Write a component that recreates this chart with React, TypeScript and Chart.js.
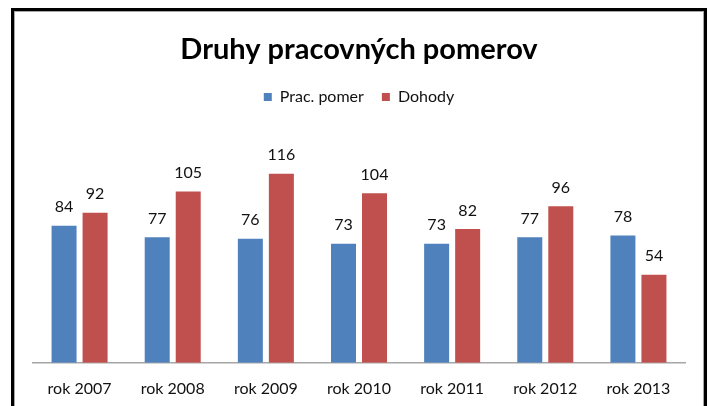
import React, { useEffect, useRef } from "react";
import { Chart, registerables } from "chart.js";

Chart.register(...registerables);

const categories = ["rok 2007", "rok 2008", "rok 2009", "rok 2010", "rok 2011", "rok 2012", "rok 2013"];
const pracPomer = [84, 77, 76, 73, 73, 77, 78];
const dohody = [92, 105, 116, 104, 82, 96, 54];
const seriesNames = ["Prac. pomer", "Dohody"];
const titleText = "Druhy pracovných pomerov";

const FONT = "Lato";
const TEXT = "#111111";

const valueLabels = {
  id: "valueLabels",
  afterDatasetsDraw(chart: any) {
    const ctx = chart.ctx;
    ctx.save();
    ctx.font = `16px ${FONT}`;
    ctx.fillStyle = TEXT;
    ctx.textAlign = "center";
    ctx.textBaseline = "alphabetic";
    chart.data.datasets.forEach((ds: any, di: number) => {
      const meta = chart.getDatasetMeta(di);
      meta.data.forEach((bar: any, i: number) => {
        ctx.fillText(String(ds.data[i]), bar.x, bar.y - 13.5);
      });
    });
    ctx.restore();
  },
};

const legendGap = {
  id: "legendGap",
  beforeInit(chart: any) {
    const legend = chart.legend;
    if (!legend) return;
    const origFit = legend.fit;
    legend.fit = function () {
      origFit.call(this);
      this.height += 19.5;
    };
  },
};

export default function App() {
  const ref = useRef<HTMLCanvasElement>(null);
  useEffect(() => {
    if (!ref.current) return;
    const chart = new Chart(ref.current, {
      type: "bar",
      data: {
        labels: categories,
        datasets: [
          { label: seriesNames[0], data: pracPomer, backgroundColor: "#4F81BD" },
          { label: seriesNames[1], data: dohody, backgroundColor: "#C0504D" },
        ],
      },
      options: {
        animation: false,
        responsive: false,
        maintainAspectRatio: false,
        events: [],
        layout: { padding: { top: 10, left: 33, right: 24, bottom: 0 } },
        datasets: {
          bar: { categoryPercentage: 0.666, barPercentage: 0.806 },
        },
        plugins: {
          title: {
            display: true,
            text: titleText,
            color: "#000",
            font: { family: FONT, size: 29, weight: "bold" },
            padding: { top: 22.6, bottom: 3.6 },
          },
          legend: {
            display: true,
            position: "top",
            labels: {
              boxWidth: 8,
              boxHeight: 8,
              padding: 18,
              color: TEXT,
              font: { family: FONT, size: 16 },
            },
          },
          tooltip: { enabled: false },
        },
        scales: {
          x: {
            grid: { display: false, drawTicks: false },
            border: { display: true, color: "#A6A6A6", width: 1.5 },
            ticks: { color: TEXT, font: { family: FONT, size: 16 }, padding: 16, maxRotation: 0 },
          },
          y: {
            display: false,
            min: 0,
            max: 140,
          },
        },
      },
      plugins: [valueLabels, legendGap],
    });
    return () => chart.destroy();
  }, []);

  return (
    <div style={{ position: "fixed", left: 0, top: 0, width: 709, height: 406, overflow: "hidden", background: "#fff" }}>
      <div
        style={{
          position: "absolute",
          left: 11,
          top: 8,
          width: 690,
          height: 420,
          borderTop: "3px solid #000",
          borderLeft: "3px solid #000",
          borderRight: "3px solid #000",
        }}
      >
        <div
          style={{
            width: 688,
            height: 420,
            borderTop: "1px solid #A6A6A6",
            borderLeft: "1px solid #A6A6A6",
            borderRight: "1px solid #A6A6A6",
          }}
        />
      </div>
      <canvas ref={ref} width={709} height={414} style={{ position: "absolute", left: 0, top: 0 }} />
    </div>
  );
}
